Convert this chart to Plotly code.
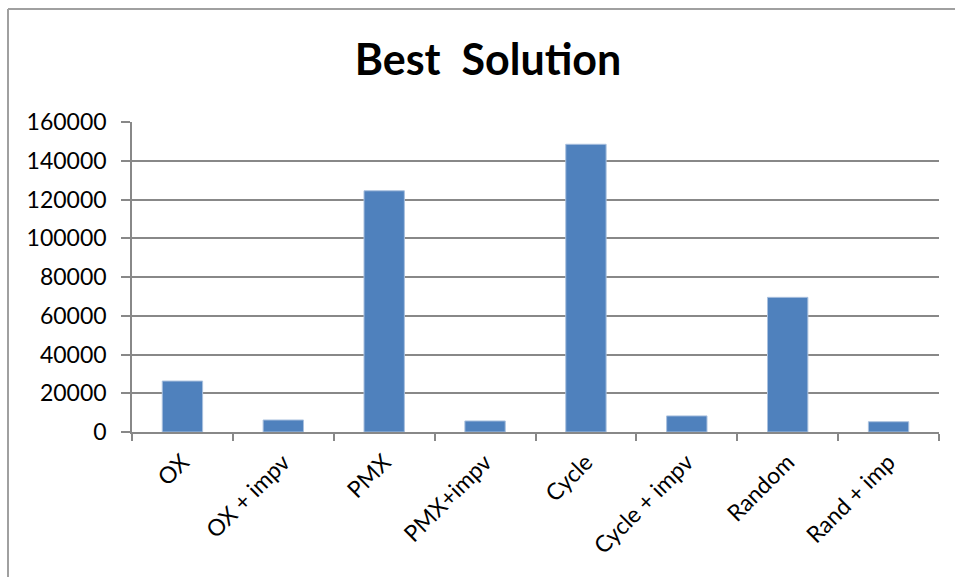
import plotly.graph_objects as go

categories = ["OX", "OX + impv", "PMX", "PMX+impv", "Cycle", "Cycle + impv", "Random", "Rand + imp"]
values = [26300, 6200, 124500, 5700, 148500, 8300, 69500, 5300]
y_ticks = [0, 20000, 40000, 60000, 80000, 100000, 120000, 140000, 160000]

W, H = 955, 577
L, R, T, B = 132, 16, 122, 145
pw, ph = W - L - R, H - T - B

def px_x(px):
    return (px - L) / pw

def px_y(py):
    return (H - B - py) / ph

fig = go.Figure(go.Bar(
    x=categories, y=values,
    marker=dict(color="#4F81BD", line=dict(color="#a9c0de", width=1)),
    width=0.4,
))

grid = "#888888"
fig.update_layout(
    width=W, height=H,
    margin=dict(l=L, r=R, t=T, b=B),
    paper_bgcolor="white", plot_bgcolor="white",
    font=dict(family="Lato, 'Open Sans', sans-serif", color="black", size=23),
    title=dict(text="<b>Best  Solution</b>", x=(488) / W, xanchor="center",
               y=1 - 60 / H, yanchor="middle",
               font=dict(size=43, family="Lato, 'Open Sans', sans-serif", color="black")),
    showlegend=False,
    bargap=0.6,
)
fig.update_yaxes(
    range=[0, 160000], tickvals=y_ticks, ticktext=[str(v) for v in y_ticks],
    showgrid=True, gridcolor=grid, gridwidth=1.5,
    showline=True, linecolor=grid, linewidth=1.5,
    ticks="outside", ticklen=9, tickcolor=grid, tickwidth=1.5,
    zeroline=False, tickfont=dict(size=23), ticklabelstandoff=10,
)
fig.update_xaxes(
    showgrid=False, showline=True, linecolor=grid, linewidth=1.5,
    ticks="outside", ticklen=7, tickcolor=grid, tickwidth=1.5,
    tickson="boundaries", tickangle=-45, tickfont=dict(size=23),
    ticklabelstandoff=6,
)
# chart border (left and top visible)
bx, by = px_x(8), px_y(9)
fig.add_shape(type="line", xref="paper", yref="paper", x0=bx, x1=bx, y0=px_y(600), y1=by,
              line=dict(color="#a0a0a0", width=2))
fig.add_shape(type="line", xref="paper", yref="paper", x0=bx, x1=px_x(1000), y0=by, y1=by,
              line=dict(color="#a0a0a0", width=2))

fig.write_html("out.html")
